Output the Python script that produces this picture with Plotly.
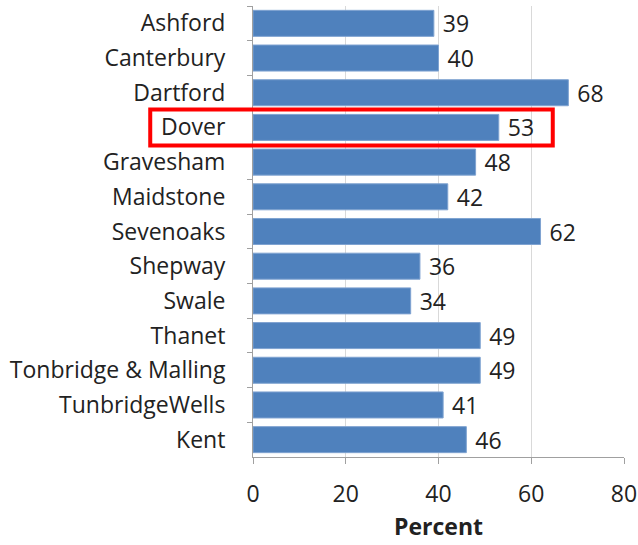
import plotly.graph_objects as go

categories = ["Ashford", "Canterbury", "Dartford", "Dover", "Gravesham", "Maidstone",
              "Sevenoaks", "Shepway", "Swale", "Thanet", "Tonbridge & Malling",
              "TunbridgeWells", "Kent"]
values = [39, 40, 68, 53, 48, 42, 62, 36, 34, 49, 49, 41, 46]
x_ticks = [0, 20, 40, 60, 80]
highlight = "Dover"

FONT = "Open Sans"
FS = 23
TXT = "#222222"

fig = go.Figure(go.Bar(
    y=categories, x=values, orientation="h",
    marker=dict(color="#4F81BD", line=dict(color="#7FA3D1", width=1)),
    text=["\u00a0" + str(v) for v in values], textposition="outside",
    textfont=dict(family=FONT, size=FS, color=TXT),
    constraintext="none",
    cliponaxis=False,
))

idx = categories.index(highlight)
fig.add_shape(type="rect", xref="paper", yref="y",
              x0=-0.277, x1=0.808, y0=idx - 0.52, y1=idx + 0.52,
              line=dict(color="#FF0000", width=4))

fig.add_annotation(text="<b>Percent</b>", xref="paper", yref="paper", x=0.5, y=-0.192,
                   xanchor="center", yanchor="bottom", showarrow=False,
                   font=dict(family=FONT, size=FS, color=TXT))

fig.update_layout(
    width=638, height=545,
    margin=dict(l=253, r=14, t=6, b=88),
    paper_bgcolor="white", plot_bgcolor="white",
    bargap=0.25, showlegend=False,
    uniformtext=dict(mode="show", minsize=FS),
    font=dict(family=FONT, color=TXT),
    xaxis=dict(range=[0, 80], tickvals=x_ticks, showgrid=True, gridcolor="#D9D9D9",
               gridwidth=1, zeroline=False, showline=True, linecolor="#A0A0A0",
               ticks="outside", ticklen=6, tickcolor="#A0A0A0", automargin=False,
               ticklabelstandoff=10,
               tickfont=dict(family=FONT, size=FS, color=TXT)),
    yaxis=dict(autorange="reversed", showline=True, linecolor="#A0A0A0",
               ticks="outside", ticklen=5, tickcolor="#A0A0A0", tickson="boundaries",
               automargin=False, ticklabelstandoff=22,
               tickfont=dict(family=FONT, size=FS, color=TXT), showgrid=False),
)

fig.write_html("out.html", config={"displayModeBar": False},
               post_script="document.body.style.margin='0';document.body.style.overflow='hidden';")
